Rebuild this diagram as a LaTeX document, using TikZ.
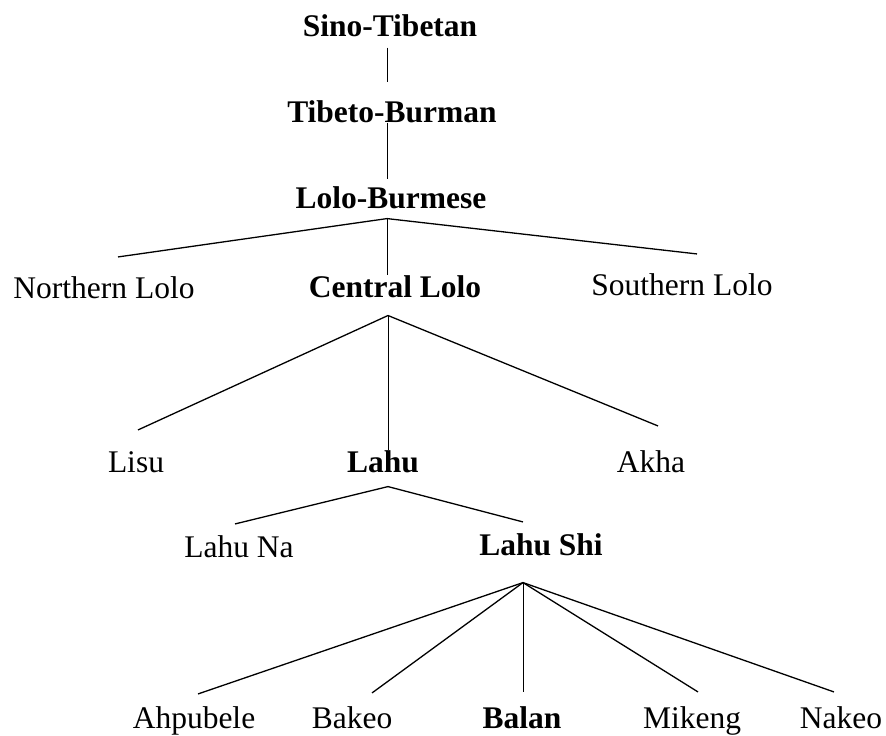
\documentclass[tikz,border=0pt]{standalone}
\usepackage{fontspec}
\setmainfont{Liberation Serif}
\tikzset{
  lang/.style={inner sep=0pt, anchor=base, font=\fontsize{31.5}{38}\selectfont},
  lineage/.style={lang, font=\fontsize{31.5}{38}\selectfont\bfseries},
  branch/.style={line width=1.3pt}
}
\begin{document}
\begin{tikzpicture}[x=1pt,y=-1pt]
  \useasboundingbox (0,0) rectangle (886,736);
  \node[lineage] (ST) at (390, 36) {Sino-Tibetan};
  \node[lineage] (TB) at (392, 122) {Tibeto-Burman};
  \node[lineage] (LB) at (391, 208) {Lolo-Burmese};
  \node[lang] (NL) at (104, 298) {Northern Lolo};
  \node[lineage] (CL) at (395, 297) {Central Lolo};
  \node[lang] (SL) at (682, 295) {Southern Lolo};
  \node[lang] (Lisu) at (136, 472) {Lisu};
  \node[lineage] (Lahu) at (383, 472) {Lahu};
  \node[lang] (Akha) at (651, 472) {Akha};
  \node[lang] (LN) at (239, 557) {Lahu Na};
  \node[lineage] (LS) at (541, 555) {Lahu Shi};
  \node[lang] (Ahpubele) at (194, 728) {Ahpubele};
  \node[lang] (Bakeo) at (352, 728) {Bakeo};
  \node[lineage] (Balan) at (522, 728) {Balan};
  \node[lang] (Mikeng) at (692, 728) {Mikeng};
  \node[lang] (Nakeo) at (841, 728) {Nakeo};
  \coordinate (LB-fork) at ([xshift=-4pt,yshift=-10pt]LB.south);
  \coordinate (CL-fork) at ([xshift=-7pt,yshift=-18pt]CL.south);
  \coordinate (Lahu-fork) at ([xshift=5pt,yshift=-14pt]Lahu.south);
  \coordinate (LS-fork) at ([xshift=-18pt,yshift=-27pt]LS.south);
  \draw[branch, line width=1pt] ([xshift=-3pt,yshift=-11pt]ST.south) -- ([xshift=-5pt,yshift=18pt]TB.north);
  \draw[branch, line width=1pt] ([xshift=-5pt]TB.south) -- ([xshift=-4pt,yshift=7pt]LB.north);
  \draw[branch] (LB-fork) -- ([xshift=14pt,yshift=19pt]NL.north);
  \draw[branch, line width=1pt] (LB-fork) -- (LB-fork |- CL.north);
  \draw[branch] (LB-fork) -- ([xshift=15pt,yshift=19pt]SL.north);
  \draw[branch] (CL-fork) -- ([xshift=2pt,yshift=21pt]Lisu.north);
  \draw[branch, line width=1pt] (CL-fork) -- (CL-fork |- Lahu.north);
  \draw[branch] (CL-fork) -- ([xshift=7pt,yshift=24pt]Akha.north);
  \draw[branch] (Lahu-fork) -- ([xshift=-4pt,yshift=11pt]LN.north);
  \draw[branch] (Lahu-fork) -- ([xshift=-18pt,yshift=11pt]LS.north);
  \draw[branch] (LS-fork) -- ([xshift=4pt,yshift=12pt]Ahpubele.north);
  \draw[branch] (LS-fork) -- ([xshift=20pt,yshift=13pt]Bakeo.north);
  \draw[branch, line width=1pt] (LS-fork) -- ([xshift=1pt,yshift=14pt]Balan.north);
  \draw[branch] (LS-fork) -- ([xshift=6pt,yshift=14pt]Mikeng.north);
  \draw[branch] (LS-fork) -- ([xshift=-7pt,yshift=14pt]Nakeo.north);
\end{tikzpicture}
\end{document}
